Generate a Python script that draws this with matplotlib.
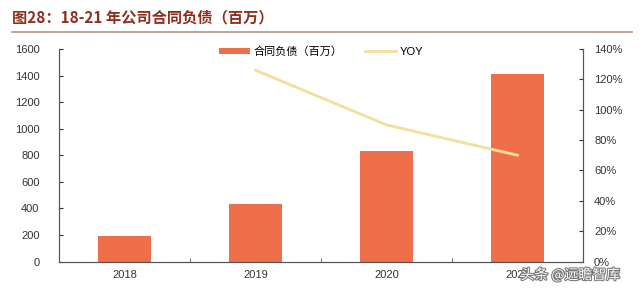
import matplotlib
matplotlib.use('Agg')
import matplotlib.pyplot as plt
import matplotlib.patheffects as pe
from matplotlib.ticker import FixedLocator, PercentFormatter

plt.rcParams['font.family'] = ['Liberation Sans', 'Noto Sans CJK SC', 'DejaVu Sans']

years = ['2018', '2019', '2020', '2021']
liabilities = [195, 434, 832, 1415]   # 合同负债（百万）
yoy_years = [1, 2, 3]
yoy = [1.26, 0.90, 0.70]

bar_color = '#EE6F4A'
line_color = '#F3DE9C'
title_color = '#8C2F1E'

fig = plt.figure(figsize=(6.4, 2.93), dpi=100)
ax = fig.add_axes([59/640, 1 - 261.5/293, (583 - 59)/640, (261.5 - 49)/293])
ax2 = ax.twinx()

x = range(len(years))
ax.bar(x, liabilities, width=0.4, color=bar_color, label='合同负债（百万）', zorder=2)
ax2.plot(yoy_years, yoy, color=line_color, lw=2, label='YOY', zorder=3)

ax.set_xlim(-0.5, 3.5)
ax.set_ylim(0, 1600)
ax.set_yticks(range(0, 1601, 200))
ax2.set_ylim(0, 1.4)
ax2.set_yticks([i * 0.2 for i in range(8)])
ax2.yaxis.set_major_formatter(PercentFormatter(1.0, decimals=0))

ax.set_xticks(list(x))
ax.set_xticklabels(years)
ax.xaxis.set_minor_locator(FixedLocator([0.5, 1.5, 2.5]))
ax.tick_params(axis='x', which='major', length=0, pad=6, labelsize=8, colors='#333333')
ax.tick_params(axis='x', which='minor', length=3, direction='in', color='#555555')
ax.tick_params(axis='y', direction='in', length=3, labelsize=8, colors='#333333', pad=14)
ax2.tick_params(axis='y', direction='in', length=3, labelsize=8, colors='#333333', pad=8)

for a in (ax, ax2):
    a.spines['top'].set_visible(False)
    for s in ('left', 'right', 'bottom'):
        a.spines[s].set_color('#555555')
        a.spines[s].set_linewidth(0.8)
ax2.set_zorder(ax.get_zorder() + 1)
ax2.patch.set_visible(False)

h1, l1 = ax.get_legend_handles_labels()
h2, l2 = ax2.get_legend_handles_labels()
ax2.legend(h1 + h2, l1 + l2, loc='upper center', bbox_to_anchor=(0.5, 1.06), ncol=2,
           frameon=False, fontsize=8, handlelength=2.8, handleheight=0.5,
           columnspacing=2.0, handletextpad=0.3)

fig.text(12/640, 1 - 17/293, '图28：18-21 年公司合同负债（百万）', fontsize=11,
         fontweight='bold', color=title_color, va='center', ha='left',
         family=['Noto Sans CJK SC', 'DejaVu Sans'])
fig.add_artist(plt.Line2D([12/640, 632/640], [1 - 32/293, 1 - 32/293],
                          color='#B89484', lw=1.2, transform=fig.transFigure))

fig.text(620/640, 1 - 275/293, '头条 @远瞻智库', fontsize=10, color='#FFFFFF',
         ha='right', va='center', family=['Noto Sans CJK SC', 'DejaVu Sans'],
         path_effects=[pe.withStroke(linewidth=1.5, foreground='#777777')])

fig.savefig('out.png', dpi=100)
